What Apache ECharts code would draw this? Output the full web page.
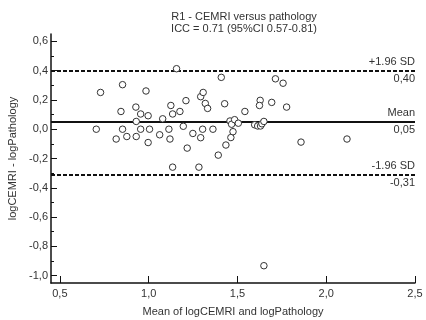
<!DOCTYPE html>
<html>
<head>
<meta charset="utf-8">
<script src="https://cdn.jsdelivr.net/npm/echarts@6/dist/echarts.min.js"></script>
<style>
  html, body { margin: 0; padding: 0; background: #fff; }
  #chart { width: 426px; height: 320px; }
</style>
</head>
<body>
<div id="chart"></div>
<script>
// mean of log values (x) vs difference of log values (y)
const meanLog = [
    0.705, 0.729, 0.817, 0.844, 0.853, 0.853, 0.877, 0.928, 0.930, 0.930,
    0.955, 0.955, 0.985, 0.997, 0.997, 1.005, 1.062, 1.079, 1.114, 1.120,
    1.125, 1.135, 1.135, 1.157, 1.176, 1.195, 1.210, 1.217, 1.249, 1.283,
    1.293, 1.293, 1.304, 1.307, 1.319, 1.332, 1.362, 1.392, 1.409, 1.428,
    1.435, 1.458, 1.463, 1.467, 1.475, 1.484, 1.505, 1.542, 1.597, 1.614,
    1.628, 1.624, 1.630, 1.638, 1.649, 1.649, 1.693, 1.714, 1.757, 1.777,
    1.858, 2.117
];
const diffLog = [
    0.000, 0.251, -0.067, 0.121, 0.304, 0.000, -0.050, 0.151, 0.053, -0.050,
    0.104, 0.000, 0.261, 0.092, -0.091, 0.000, -0.038, 0.071, 0.000, -0.067,
    0.162, 0.104, -0.259, 0.413, 0.121, 0.020, 0.195, -0.129, -0.029, -0.259,
    0.222, -0.058, 0.000, 0.251, 0.176, 0.142, 0.000, -0.177, 0.354, 0.174,
    -0.108, 0.056, -0.057, 0.034, -0.017, 0.065, 0.041, 0.121, 0.030, 0.022,
    0.197, 0.162, 0.022, 0.037, 0.053, -0.932, 0.183, 0.344, 0.314, 0.151,
    -0.088, -0.067
];

// limits of agreement
const upperLimit = 0.40;
const meanDiff = 0.05;
const lowerLimit = -0.31;

const xTicks = [0.5, 1.0, 1.5, 2.0, 2.5];
const yTicks = [-1.0, -0.8, -0.6, -0.4, -0.2, 0.0, 0.2, 0.4, 0.6];
const yMinorTicks = [-0.9, -0.7, -0.5, -0.3, -0.1, 0.1, 0.3, 0.5];

const points = meanLog.map((x, i) => [x, diffLog[i]]);
const comma = (v, d) => v.toFixed(d).replace('.', ',');

const textColor = '#333';
const font = 'Liberation Sans, Arial, sans-serif';

const chart = echarts.init(document.getElementById('chart'));

const dashed = { type: [4, 2], width: 2, color: '#111' };
const solid = { type: 'solid', width: 2, color: '#111' };

const option = {
    backgroundColor: '#fff',
    animation: false,
    textStyle: { fontFamily: font },
    title: {
        text: 'R1 - CEMRI versus pathology\nICC = 0.71 (95%CI 0.57-0.81)',
        left: 239,
        top: 6,
        textAlign: 'center',
        textStyle: { fontSize: 11, fontWeight: 'normal', color: textColor, lineHeight: 12, fontFamily: font }
    },
    grid: { left: 51, right: 11, top: 34, bottom: 37, outerBoundsMode: 'none' },
    xAxis: {
        type: 'value',
        min: 0.45,
        max: 2.5,
        name: 'Mean of logCEMRI and logPathology',
        nameLocation: 'middle',
        nameGap: 23,
        nameTextStyle: { fontSize: 11, color: textColor, fontFamily: font },
        axisLine: { onZero: false, lineStyle: { color: '#111', width: 1.5 } },
        axisTick: { show: true, inside: true, length: 7, customValues: xTicks, lineStyle: { color: '#111', width: 1 } },
        axisLabel: {
            customValues: xTicks,
            margin: 5,
            fontSize: 11,
            color: textColor,
            formatter: v => comma(v, 1)
        },
        splitLine: { show: false }
    },
    yAxis: [{
        type: 'value',
        position: 'left',
        min: -1.05,
        max: 0.65,
        name: 'logCEMRI - logPathology',
        nameLocation: 'middle',
        nameGap: 27,
        nameTextStyle: { fontSize: 11, color: textColor, fontFamily: font },
        axisLine: { onZero: false, lineStyle: { color: '#111', width: 1.5 } },
        axisTick: { inside: true, length: 6, customValues: yTicks, lineStyle: { color: '#111', width: 1 } },
        axisLabel: {
            customValues: yTicks,
            margin: 3,
            fontSize: 11,
            color: textColor,
            formatter: v => comma(v, 1)
        },
        splitLine: { show: false }
    }, {
        type: 'value',
        position: 'left',
        min: -1.05,
        max: 0.65,
        axisLine: { show: false, onZero: false },
        axisTick: { show: true, inside: true, length: 3, customValues: yMinorTicks, lineStyle: { color: '#111', width: 1 } },
        axisLabel: { show: false },
        splitLine: { show: false }
    }],
    series: [{
        type: 'scatter',
        data: points,
        symbol: 'circle',
        symbolSize: 6.5,
        itemStyle: { color: '#fff', borderColor: '#333', borderWidth: 1, opacity: 1 },
        z: 3,
        markLine: {
            silent: true,
            symbol: 'none',
            animation: false,
            z: 2,
            label: { fontSize: 11, color: textColor, fontFamily: font, distance: [0, 3] },
            data: [
                { yAxis: upperLimit, lineStyle: dashed, label: { position: 'insideEndTop', formatter: '+1.96 SD' } },
                { yAxis: upperLimit, lineStyle: dashed, label: { position: 'insideEndBottom', formatter: comma(upperLimit, 2) } },
                { yAxis: meanDiff, lineStyle: solid, label: { position: 'insideEndTop', formatter: 'Mean' } },
                { yAxis: meanDiff, lineStyle: solid, label: { position: 'insideEndBottom', formatter: comma(meanDiff, 2) } },
                { yAxis: lowerLimit, lineStyle: dashed, label: { position: 'insideEndTop', formatter: '-1.96 SD' } },
                { yAxis: lowerLimit, lineStyle: dashed, label: { position: 'insideEndBottom', formatter: comma(lowerLimit, 2) } }
            ]
        }
    }]
};

chart.setOption(option);
</script>
</body>
</html>
